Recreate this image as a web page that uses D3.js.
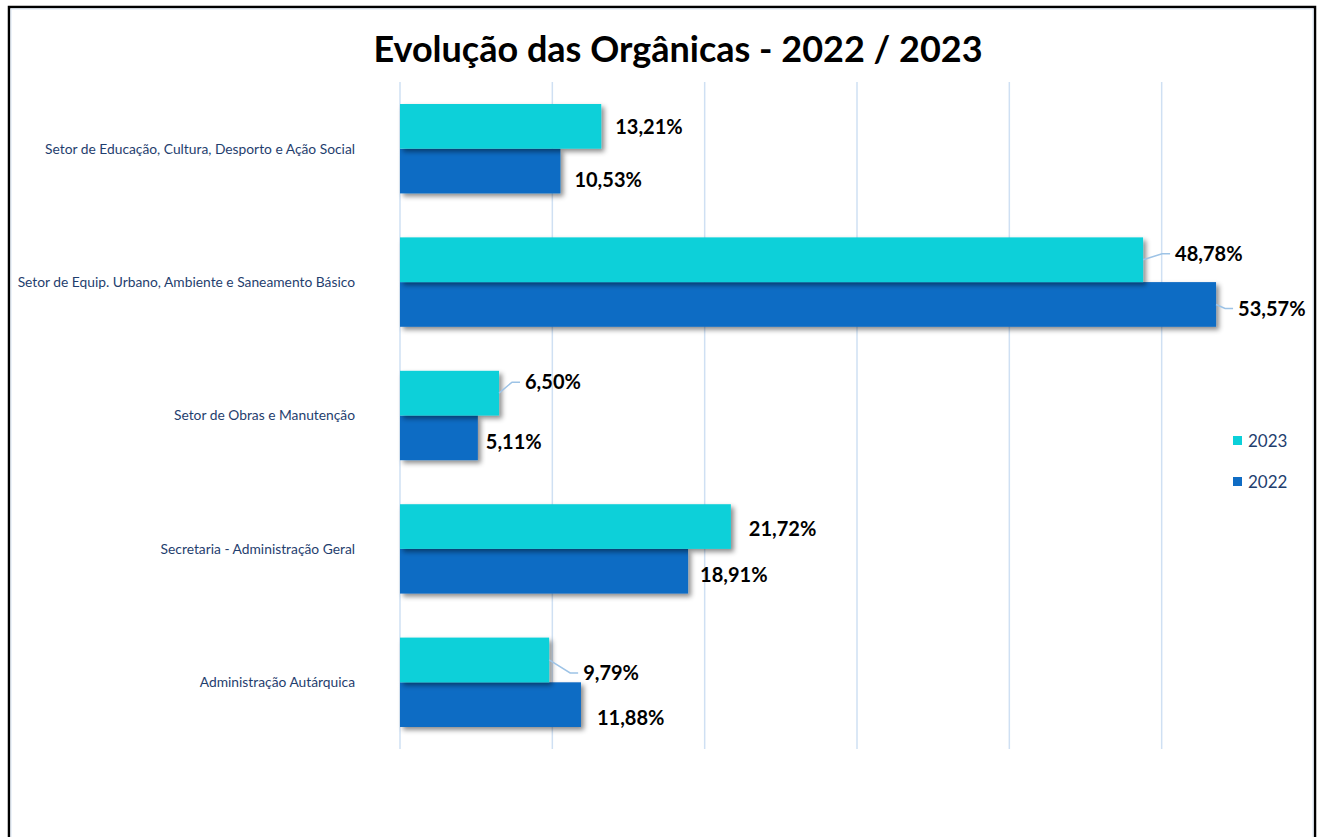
<!DOCTYPE html>
<html lang="pt">
<head>
<meta charset="UTF-8">
<title>Evolução das Orgânicas</title>
<style>
  body { margin: 0; background: #fff; }
  svg { display: block; }
</style>
</head>
<body>
<svg id="chart"></svg>
<script src="https://cdnjs.cloudflare.com/ajax/libs/d3/7.8.5/d3.min.js"></script>
<script>
  // dados
  var categories = [
    "Setor de Educação, Cultura, Desporto e Ação Social",
    "Setor de Equip. Urbano, Ambiente e Saneamento Básico",
    "Setor de Obras e Manutenção",
    "Secretaria - Administração Geral",
    "Administração Autárquica"
  ];
  var series = ["2023", "2022"];
  var values2023 = [13.21, 48.78, 6.50, 21.72, 9.79];
  var values2022 = [10.53, 53.57, 5.11, 18.91, 11.88];
  var gridTicks = [0, 10, 20, 30, 40, 50];

  // deslocamento manual dos rótulos (como no Excel), [dx, dy], e se têm linha de chamada
  var labelShift2023 = [[14, 0], [32, -6], [26, -11], [18, 2], [34, 13]];
  var labelShift2022 = [[14, 9], [22, 4], [8, 4], [12, 4], [16, 13]];
  var leader2023 = [false, true, true, false, true];
  var leader2022 = [false, true, false, false, false];

  var colors = { "2023": "#0bd0d9", "2022": "#0f6cc4" };

  var width = 1322, height = 837;
  var svg = d3.select("#chart").attr("width", width).attr("height", height);

  // moldura
  svg.append("rect")
    .attr("x", 9).attr("y", 7)
    .attr("width", 1306).attr("height", 845)
    .attr("fill", "#fff")
    .attr("stroke", "#000").attr("stroke-width", 2.5);
  svg.append("rect")
    .attr("x", 11).attr("y", 9)
    .attr("width", 1302).attr("height", 845)
    .attr("fill", "none")
    .attr("stroke", "#dbe7f5").attr("stroke-width", 1);

  var defs = svg.append("defs");
  var f = defs.append("filter").attr("id", "shadow")
    .attr("x", "-5%").attr("y", "-20%").attr("width", "115%").attr("height", "150%");
  f.append("feDropShadow")
    .attr("dx", 3).attr("dy", 3).attr("stdDeviation", 2.5)
    .attr("flood-color", "#000").attr("flood-opacity", 0.45);

  svg.append("text")
    .attr("x", 678).attr("y", 62)
    .attr("text-anchor", "middle")
    .attr("font-family", "Lato, 'Open Sans', sans-serif")
    .attr("font-weight", "bold")
    .attr("font-size", 36)
    .attr("fill", "#000")
    .text("Evolução das Orgânicas - 2022 / 2023");

  var x = d3.scaleLinear().domain([0, 60]).range([400, 1314]);
  var y = d3.scaleBand().domain(categories).range([82, 749]).paddingInner(0.33).paddingOuter(0.165);
  var ySub = d3.scaleBand().domain(series).range([0, y.bandwidth()]);

  // grelha
  svg.append("g").selectAll("line")
    .data(gridTicks).enter()
    .append("line")
    .attr("x1", function (d) { return x(d); })
    .attr("x2", function (d) { return x(d); })
    .attr("y1", 82).attr("y2", 749)
    .attr("stroke", "#cfe0f3").attr("stroke-width", 1.5);

  // rótulos das categorias
  svg.append("g").selectAll("text")
    .data(categories).enter()
    .append("text")
    .attr("x", 355)
    .attr("y", function (d) { return y(d) + y.bandwidth() / 2; })
    .attr("dy", "0.35em")
    .attr("text-anchor", "end")
    .attr("font-family", "Lato, 'Open Sans', sans-serif")
    .attr("font-size", 13.8)
    .attr("fill", "#1f3e6e")
    .text(function (d) { return d; });

  var rows = [];
  categories.forEach(function (c, i) {
    rows.push({ cat: c, s: "2023", v: values2023[i], shift: labelShift2023[i], leader: leader2023[i] });
    rows.push({ cat: c, s: "2022", v: values2022[i], shift: labelShift2022[i], leader: leader2022[i] });
  });

  var bars = svg.append("g");
  // desenhar 2022 primeiro para a sombra do 2023 ficar por cima
  bars.selectAll("rect")
    .data(rows.slice().sort(function (a, b) { return a.s === "2022" ? -1 : 1; })).enter()
    .append("rect")
    .attr("x", x(0))
    .attr("y", function (d) { return y(d.cat) + ySub(d.s); })
    .attr("width", function (d) { return x(d.v) - x(0); })
    .attr("height", ySub.bandwidth())
    .attr("fill", function (d) { return colors[d.s]; })
    .attr("filter", "url(#shadow)");

  function fmt(v) { return v.toFixed(2).replace(".", ",") + "%"; }

  // linhas de chamada
  svg.append("g").selectAll("polyline")
    .data(rows.filter(function (d) { return d.leader; })).enter()
    .append("polyline")
    .attr("points", function (d) {
      var bx = x(d.v), by = y(d.cat) + ySub(d.s) + ySub.bandwidth() / 2;
      var tx = bx + d.shift[0] - 5, ty = by + d.shift[1];
      return [[bx, by], [tx - 8, ty], [tx, ty]].map(function (p) { return p.join(","); }).join(" ");
    })
    .attr("fill", "none")
    .attr("stroke", "#9dc3e6").attr("stroke-width", 1.5);

  svg.append("g").selectAll("text")
    .data(rows).enter()
    .append("text")
    .attr("x", function (d) { return x(d.v) + d.shift[0]; })
    .attr("y", function (d) { return y(d.cat) + ySub(d.s) + ySub.bandwidth() / 2 + d.shift[1]; })
    .attr("dy", "0.36em")
    .attr("font-family", "Lato, 'Open Sans', sans-serif")
    .attr("font-weight", "bold")
    .attr("font-size", 20)
    .attr("fill", "#000")
    .text(function (d) { return fmt(d.v); });

  // legenda
  var legend = svg.append("g").selectAll("g")
    .data(series).enter()
    .append("g")
    .attr("transform", function (d, i) { return "translate(1233," + (436 + i * 41) + ")"; });
  legend.append("rect")
    .attr("width", 9).attr("height", 9)
    .attr("fill", function (d) { return colors[d]; });
  legend.append("text")
    .attr("x", 15).attr("y", 4.5).attr("dy", "0.36em")
    .attr("font-family", "Lato, 'Open Sans', sans-serif")
    .attr("font-size", 17)
    .attr("fill", "#1f3e6e")
    .text(function (d) { return d; });
</script>
</body>
</html>
